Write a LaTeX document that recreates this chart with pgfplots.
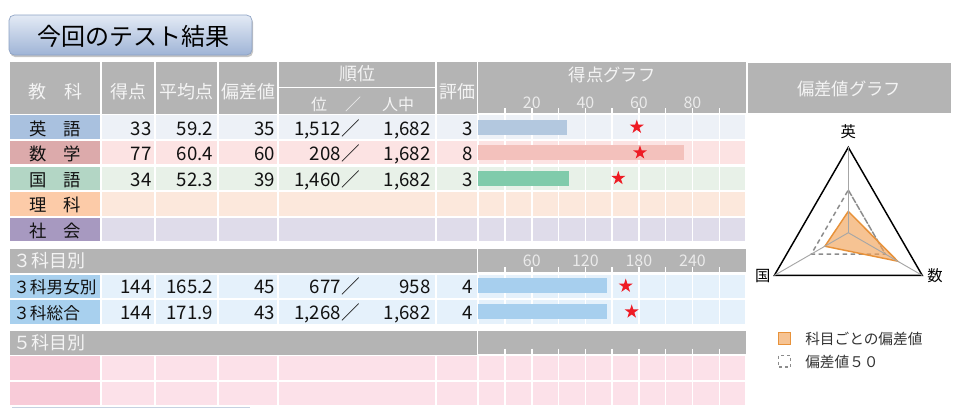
\documentclass[border=0pt]{standalone}
\usepackage{pgfplots}
\pgfplotsset{compat=1.18}
\usepackage{pgfplotstable}
\usepackage{fontspec}
\setmainfont{Noto Sans CJK JP}
\usetikzlibrary{shadows}

\definecolor{hdr}{HTML}{B4B4B4}
\definecolor{hdrtext}{HTML}{F4F4F4}
\definecolor{ticktext}{HTML}{EAEAEA}
\definecolor{engL}{HTML}{A9C1DF}\definecolor{engR}{HTML}{EDF1F7}\definecolor{engB}{HTML}{B3C8DF}
\definecolor{matL}{HTML}{DCAAAB}\definecolor{matR}{HTML}{FCE3E3}\definecolor{matB}{HTML}{F3C1BC}
\definecolor{japL}{HTML}{B3D6C5}\definecolor{japR}{HTML}{E8F1E8}\definecolor{japB}{HTML}{80CBAB}
\definecolor{sciL}{HTML}{FCCBA8}\definecolor{sciR}{HTML}{FCE8DC}
\definecolor{socL}{HTML}{A799C0}\definecolor{socR}{HTML}{DFDCEA}
\definecolor{triL}{HTML}{A8D0EE}\definecolor{triR}{HTML}{E5F1FB}\definecolor{triB}{HTML}{A7CFEE}
\definecolor{fivL}{HTML}{F8CBD8}\definecolor{fivR}{HTML}{FCE1E9}
\definecolor{starred}{HTML}{EE1C25}
\definecolor{radarline}{HTML}{E8923A}
\definecolor{radarfill}{HTML}{F2A35A}
\definecolor{legendfill}{HTML}{F6C393}
\definecolor{spoke}{HTML}{A6A6A6}
\definecolor{dashcol}{HTML}{8C8C8C}
\definecolor{titletop}{HTML}{E3EAF5}
\definecolor{titlebot}{HTML}{9FB4D6}
\definecolor{titleborder}{HTML}{8DA2C4}
\definecolor{bodytext}{HTML}{111111}

\pgfdeclareplotmark{fstar}{%
  \pgfpathmoveto{\pgfpointpolar{90}{\pgfplotmarksize}}%
  \pgfpathlineto{\pgfpointpolar{126}{0.382\pgfplotmarksize}}%
  \pgfpathlineto{\pgfpointpolar{162}{\pgfplotmarksize}}%
  \pgfpathlineto{\pgfpointpolar{198}{0.382\pgfplotmarksize}}%
  \pgfpathlineto{\pgfpointpolar{234}{\pgfplotmarksize}}%
  \pgfpathlineto{\pgfpointpolar{270}{0.382\pgfplotmarksize}}%
  \pgfpathlineto{\pgfpointpolar{306}{\pgfplotmarksize}}%
  \pgfpathlineto{\pgfpointpolar{342}{0.382\pgfplotmarksize}}%
  \pgfpathlineto{\pgfpointpolar{18}{\pgfplotmarksize}}%
  \pgfpathlineto{\pgfpointpolar{54}{0.382\pgfplotmarksize}}%
  \pgfpathclose
  \pgfusepathqfill
}

% deviation values (偏差値) for the radar chart
\pgfplotstableread{
a v
90 35
-30 60
210 39
90 35
}\devtab
\pgfplotstableread{
a v
90 50
-30 50
210 50
90 50
-30 50
}\fiftytab
\pgfplotstableread{
a v
90 80
-30 80
210 80
90 80
-30 80
}\maxtab

\pgfplotsset{
  scoreaxis/.style={
    scale only axis, anchor=north west, width=200.775pt,
    axis line style={draw=white, line width=1.1pt},
    xtick pos=both, xticklabel pos=right,
    ytick=\empty,
    tick align=outside, major tick length=4.5pt, minor tick length=4.5pt,
    tick style={draw=white, line width=1.1pt},
    xmajorgrids=true, xminorgrids=true,
    major grid style={white, line width=1.1pt},
    minor grid style={white, line width=1.1pt},
    tick label style={font=\fontsize{12}{12}\selectfont, text=ticktext},
    xticklabel style={yshift=-3.6pt},
    /pgf/number format/assume math mode=true,
    clip=false,
  },
  hbar/.style={xbar, bar shift=0pt, draw=none, bar width=11.25pt},
  star/.style={only marks, mark=fstar, mark size=5.5pt, color=starred},
}

\newcommand\fb{\fontsize{14}{14}\selectfont}
\newcommand\fl{\fontsize{13}{13}\selectfont}
\newcommand\fh{\fontsize{13.5}{13.5}\selectfont}
% numbers of one row: baseline, score, average, deviation, rank, total, grade
\newcommand\datarow[7]{%
  \node at (151.7,#1) {#2};
  \node at (213.3,#1) {#3};
  \node at (275.3,#1) {#4};
  \node at (360,#1) {#5／};
  \node at (430.7,#1) {#6};
  \node at (472.7,#1) {#7};
}

\begin{document}
\begin{tikzpicture}
\begin{scope}[x=0.75pt,y=-0.75pt]
\useasboundingbox (0,0) rectangle (956,409);
\fill[white] (0,0) rectangle (956,409);
% title box
\path[rounded corners=4pt, top color=titletop, bottom color=titlebot, draw=titleborder, line width=0.5pt,
  drop shadow={opacity=0.45, shadow xshift=0.8pt, shadow yshift=-1.6pt}] (9,15) rectangle (252,55);
\node[anchor=base, inner sep=0] at (133,45) {\fontsize{18}{18}\selectfont 今回のテスト結果};
% header
\fill[hdr] (10,61.7) rectangle (100,114.2);
\fill[hdr] (102,61.7) rectangle (154,114.2);
\fill[hdr] (156,61.7) rectangle (217,114.2);
\fill[hdr] (219,61.7) rectangle (277,114.2);
\fill[hdr] (279,61.7) rectangle (435,86.6);
\fill[hdr] (279,88.2) rectangle (435,114.2);
\fill[hdr] (437,61.7) rectangle (476.5,114.2);
\fill[hdr] (478,61.7) rectangle (746,114.2);
\fill[hdr] (747.5,62.5) rectangle (951,113.3);
% subject rows
\foreach \i/\cl/\cr in {0/engL/engR,1/matL/matR,2/japL/japR,3/sciL/sciR,4/socL/socR}{
  \pgfmathsetmacro\t{115.3+25.6*\i}
  \pgfmathsetmacro\b{\t+23.4}
  \fill[\cl] (10,\t) rectangle (100,\b);
  \fill[\cr] (102,\t) rectangle (154,\b);
  \fill[\cr] (156,\t) rectangle (217,\b);
  \fill[\cr] (219,\t) rectangle (277,\b);
  \fill[\cr] (279,\t) rectangle (435,\b);
  \fill[\cr] (437,\t) rectangle (476.5,\b);
  \fill[\cr] (478,\t) rectangle (746,\b);
}
% 3 subjects section
\fill[hdr] (10,249) rectangle (476.5,273);
\fill[hdr] (478,249) rectangle (746,273);
\foreach \i in {0,1}{
  \pgfmathsetmacro\t{274.5+25.8*\i}
  \pgfmathsetmacro\b{\t+23.2}
  \fill[triL] (10,\t) rectangle (100,\b);
  \fill[triR] (102,\t) rectangle (154,\b);
  \fill[triR] (156,\t) rectangle (217,\b);
  \fill[triR] (219,\t) rectangle (277,\b);
  \fill[triR] (279,\t) rectangle (435,\b);
  \fill[triR] (437,\t) rectangle (476.5,\b);
  \fill[triR] (478,\t) rectangle (746,\b);
}
% 5 subjects section
\fill[hdr] (10,330.7) rectangle (476.5,354.5);
\fill[hdr] (478,330.7) rectangle (746,354.5);
\foreach \i in {0,1}{
  \pgfmathsetmacro\t{356.2+25.8*\i}
  \pgfmathsetmacro\b{\t+23.4}
  \fill[fivL] (10,\t) rectangle (100,\b);
  \fill[fivR] (102,\t) rectangle (154,\b);
  \fill[fivR] (156,\t) rectangle (217,\b);
  \fill[fivR] (219,\t) rectangle (277,\b);
  \fill[fivR] (279,\t) rectangle (435,\b);
  \fill[fivR] (437,\t) rectangle (476.5,\b);
  \fill[fivR] (478,\t) rectangle (746,\b);
}
\draw[titleborder!50, line width=1] (12,407.5) -- (250,407.5);
\end{scope}

% score graph: 5 subjects
\begin{axis}[scoreaxis, at={(358.725pt,-85.65pt)}, height=96pt,
  xmin=0, xmax=100, ymin=-0.5, ymax=4.5,
  xtick={20,40,60,80}, minor xtick={10,30,50,70,90}]
\addplot[hbar, fill=engB] coordinates {(33,4)};
\addplot[hbar, fill=matB] coordinates {(77,3)};
\addplot[hbar, fill=japB] coordinates {(34,2)};
\addplot[star] coordinates {(59.2,4) (60.4,3) (52.3,2)};
\end{axis}

% score graph: 3 subjects
\begin{axis}[scoreaxis, at={(358.725pt,-204.75pt)}, height=38.7pt,
  xmin=0, xmax=300, ymin=-0.5, ymax=1.5,
  xtick={60,120,180,240}, minor xtick={30,90,150,210,270}]
\addplot[hbar, fill=triB] coordinates {(144,1)};
\addplot[hbar, fill=triB] coordinates {(144,0)};
\addplot[star] coordinates {(165.2,1) (171.9,0)};
\end{axis}

% score graph: 5 subjects total (empty)
\begin{axis}[scoreaxis, at={(358.725pt,-265.875pt)}, height=38.7pt,
  xmin=0, xmax=100, ymin=-0.5, ymax=1.5,
  xtick={10,20,...,90}, xticklabels={}]
\end{axis}

% radar chart
\begin{axis}[at={(636.225pt,-174.525pt)}, anchor=center, scale only axis,
  width=149.4pt, height=149.4pt, xmin=-70, xmax=70, ymin=-70, ymax=70,
  hide axis, clip=false]
\addplot[black, line width=1.1pt, data cs=polar] table[x=a, y expr=\thisrow{v}-20] {\maxtab};
\addplot[dashcol, line width=1.1pt, dash pattern=on 3.5pt off 2.5pt, data cs=polar] table[x=a, y expr=\thisrow{v}-20] {\fiftytab};
\addplot[draw=radarline, line width=1.1pt, fill=radarfill, fill opacity=0.65, data cs=polar] table[x=a, y expr=\thisrow{v}-20] {\devtab};
\addplot[spoke, line width=0.7pt, data cs=polar] coordinates {(90,0) (90,60)};
\addplot[spoke, line width=0.7pt, data cs=polar] coordinates {(-30,0) (-30,60)};
\addplot[spoke, line width=0.7pt, data cs=polar] coordinates {(210,0) (210,60)};
\end{axis}

\begin{scope}[x=0.75pt,y=-0.75pt, every node/.style={inner sep=0}]
% header texts
\begin{scope}[every node/.append style={text=hdrtext, font=\fh, anchor=base}]
\node at (55,98.5) {教　科};
\node at (128,98.5) {得点};
\node at (186.5,98.5) {平均点};
\node at (248,98.5) {偏差値};
\node at (357,80.5) {順位};
\node[font=\fontsize{12}{12}\selectfont] at (319,110) {位};
\node[font=\fontsize{12}{12}\selectfont] at (353,110) {／};
\node[font=\fontsize{12}{12}\selectfont] at (398,110) {人中};
\node at (457,98.5) {評価};
\node[font=\fl] at (612,81.5) {得点グラフ};
\node[font=\fl] at (849,95) {偏差値グラフ};
\node[anchor=base west] at (13,267) {３科目別};
\node[anchor=base west] at (13,349) {５科目別};
\end{scope}
% body texts
\begin{scope}[every node/.append style={text=bodytext, font=\fb, anchor=base east}]
\node[anchor=base, font=\fl] at (55,135) {英　語};
\node[anchor=base, font=\fl] at (55,160.6) {数　学};
\node[anchor=base, font=\fl] at (55,186.2) {国　語};
\node[anchor=base, font=\fl] at (55,211.8) {理　科};
\node[anchor=base, font=\fl] at (55,237.4) {社　会};
\datarow{135}{33}{59.2}{35}{1,512}{1,682}{3}
\datarow{160.6}{77}{60.4}{60}{208}{1,682}{8}
\datarow{186.2}{34}{52.3}{39}{1,460}{1,682}{3}
\node[anchor=base west, font=\fontsize{12.5}{12.5}\selectfont] at (13,293.3) {３科男女別};
\node[anchor=base west, font=\fontsize{12.5}{12.5}\selectfont] at (13,319) {３科総合};
\datarow{293.3}{144}{165.2}{45}{677}{958}{4}
\datarow{319}{144}{171.9}{43}{1,268}{1,682}{4}
\end{scope}
% radar labels
\begin{scope}[every node/.append style={text=black, font=\fontsize{11.5}{11.5}\selectfont, anchor=base}]
\node at (848.3,137.5) {英};
\node at (762.7,281) {国};
\node at (935,281) {数};
\end{scope}
% legend
\fill[legendfill, draw=radarline, line width=0.6pt] (778.3,332.7) rectangle (790.7,344);
\draw[dashcol, line width=0.9pt, dash pattern=on 2.5pt off 2pt] (778.3,355.5) rectangle (790.7,367);
\node[anchor=base west, text=black!80, font=\fontsize{11}{11}\selectfont] at (805,344) {科目ごとの偏差値};
\node[anchor=base west, text=black!80, font=\fontsize{11}{11}\selectfont] at (805,367) {偏差値５０};
\end{scope}
\end{tikzpicture}
\end{document}
